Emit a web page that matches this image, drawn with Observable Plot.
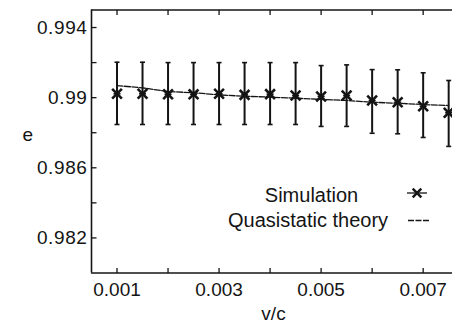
<!DOCTYPE html>
<html>
<head>
<meta charset="utf-8">
<script src="https://cdn.jsdelivr.net/npm/d3@7"></script>
<script src="https://cdn.jsdelivr.net/npm/@observablehq/plot@0.6"></script>
<style>
  html, body { margin: 0; padding: 0; background: #fff; overflow: hidden; }
  svg { display: block; }
  g[aria-label="y-axis tick label"] text { letter-spacing: 0.6px; }
</style>
</head>
<body>
<div id="chart"></div>
<script>
// v/c values
const vc = [0.001, 0.0015, 0.002, 0.0025, 0.003, 0.0035, 0.004, 0.0045, 0.005, 0.0055, 0.006, 0.0065, 0.007, 0.0075];
// Simulation values and error bar ends
const simE = [0.99022, 0.99022, 0.99019, 0.99019, 0.99022, 0.99016, 0.99020, 0.99012, 0.99007, 0.99012, 0.98984, 0.98974, 0.98951, 0.98914];
const simHigh = [0.99202, 0.99202, 0.99200, 0.99200, 0.99200, 0.99200, 0.99200, 0.99200, 0.99183, 0.99187, 0.99160, 0.99159, 0.99142, 0.99098];
const simLow = [0.98847, 0.98847, 0.98847, 0.98847, 0.98847, 0.98847, 0.98847, 0.98847, 0.98836, 0.98836, 0.98797, 0.98794, 0.98773, 0.98722];
// Quasistatic theory
const theoryE = [0.99069, 0.99056, 0.99035, 0.99028, 0.99016, 0.99008, 0.99003, 0.98997, 0.98990, 0.98984, 0.98974, 0.98968, 0.98961, 0.98955];
// Tick labels
const yTickLabels = [0.982, 0.986, 0.99, 0.994];
const yMinorTicks = [0.982, 0.984, 0.986, 0.988, 0.99, 0.992, 0.994];
const xTickLabels = [0.001, 0.003, 0.005, 0.007];
const xMinorTicks = [0.001, 0.002, 0.003, 0.004, 0.005, 0.006, 0.007];
const seriesNames = ["Simulation", "Quasistatic theory"];

const sim = vc.map((x, i) => ({x, e: simE[i], lo: simLow[i], hi: simHigh[i]}));
const theory = vc.map((x, i) => ({x, e: theoryE[i]}));

const ink = "#141414";
const font = "'Liberation Sans', Arial, Helvetica, sans-serif";

function hline(r) {
  return {draw(ctx) { ctx.moveTo(-r, 0); ctx.lineTo(r, 0); }};
}
const tickRight = {draw(ctx) { ctx.moveTo(0, 0); ctx.lineTo(5, 0); }};
const tickUp = {draw(ctx) { ctx.moveTo(0, 0); ctx.lineTo(0, -5); }};
const tickDown = {draw(ctx) { ctx.moveTo(0, 0); ctx.lineTo(0, 5); }};

const chart = Plot.plot({
  width: 452,
  height: 325,
  marginLeft: 91,
  marginRight: 0,
  marginTop: 9.5,
  marginBottom: 52.5,
  style: {fontFamily: font, fontSize: "19px", color: ink, background: "#fff"},
  x: {domain: [0.0005, 0.007575]},
  y: {domain: [0.980, 0.995]},
  marks: [
    // frame
    Plot.ruleX([0.0005], {stroke: ink, strokeWidth: 1.6}),
    Plot.ruleY([0.980, 0.995], {stroke: ink, strokeWidth: 1.6}),
    // inward ticks
    Plot.dot(yMinorTicks, {y: d => d, frameAnchor: "left", symbol: tickRight, r: 1, stroke: ink, strokeWidth: 1.3, fill: null}),
    Plot.dot(xMinorTicks, {x: d => d, frameAnchor: "bottom", symbol: tickUp, r: 1, stroke: ink, strokeWidth: 1.3, fill: null}),
    Plot.dot(xMinorTicks, {x: d => d, frameAnchor: "top", symbol: tickDown, r: 1, stroke: ink, strokeWidth: 1.3, fill: null}),
    // axes labels
    Plot.axisY({ticks: yTickLabels, tickFormat: d => String(d), tickSize: 0, tickPadding: 4, label: null, fontSize: 19, fill: ink}),
    Plot.axisX({ticks: xTickLabels, tickFormat: d => String(d), tickSize: 0, tickPadding: 9, label: null, fontSize: 19, fill: ink}),
    Plot.text(["e"], {frameAnchor: "left", dx: -69, dy: -7, text: d => d, fontSize: 19, fill: ink}),
    Plot.text(["v/c"], {frameAnchor: "bottom", dx: 1.5, dy: 47, lineAnchor: "bottom", text: d => d, fontSize: 19, fill: ink}),
    // theory line
    Plot.line(theory, {x: "x", y: "e", stroke: ink, strokeWidth: 1.3, strokeDasharray: "6,1.5"}),
    // error bars
    Plot.ruleX(sim, {x: "x", y1: "lo", y2: "hi", stroke: ink, strokeWidth: 2}),
    Plot.dot(sim, {x: "x", y: "hi", symbol: hline(2.5), r: 1, stroke: ink, strokeWidth: 1.6, fill: null}),
    Plot.dot(sim, {x: "x", y: "lo", symbol: hline(2.5), r: 1, stroke: ink, strokeWidth: 1.6, fill: null}),
    // markers
    Plot.dot(sim, {x: "x", y: "e", symbol: "times", r: 4.5, stroke: ink, strokeWidth: 2.6}),
    Plot.dot(sim, {x: "x", y: "e", symbol: hline(3.5), r: 1, stroke: ink, strokeWidth: 1.6, fill: null}),
    // legend
    Plot.text([seriesNames[0]], {frameAnchor: "top-left", dx: 220, dy: 191.5, lineAnchor: "bottom", textAnchor: "middle", text: d => d, fontSize: 20, fill: ink}),
    Plot.text([seriesNames[1]], {frameAnchor: "top-left", dx: 216.5, dy: 217, lineAnchor: "bottom", textAnchor: "middle", text: d => d, fontSize: 20, fill: ink}),
    Plot.dot([0], {frameAnchor: "top-left", dx: 325.5, dy: 183, symbol: hline(10), r: 1, stroke: ink, strokeWidth: 1.3, fill: null}),
    Plot.dot([0], {frameAnchor: "top-left", dx: 325.5, dy: 183, symbol: "times", r: 4, stroke: ink, strokeWidth: 2.4}),
    Plot.dot([0], {frameAnchor: "top-left", dx: 327, dy: 210.5, symbol: hline(10.5), r: 1, stroke: ink, strokeWidth: 1.3, fill: null, strokeDasharray: "6,1.5"})
  ]
});
document.getElementById("chart").appendChild(chart);
</script>
</body>
</html>
